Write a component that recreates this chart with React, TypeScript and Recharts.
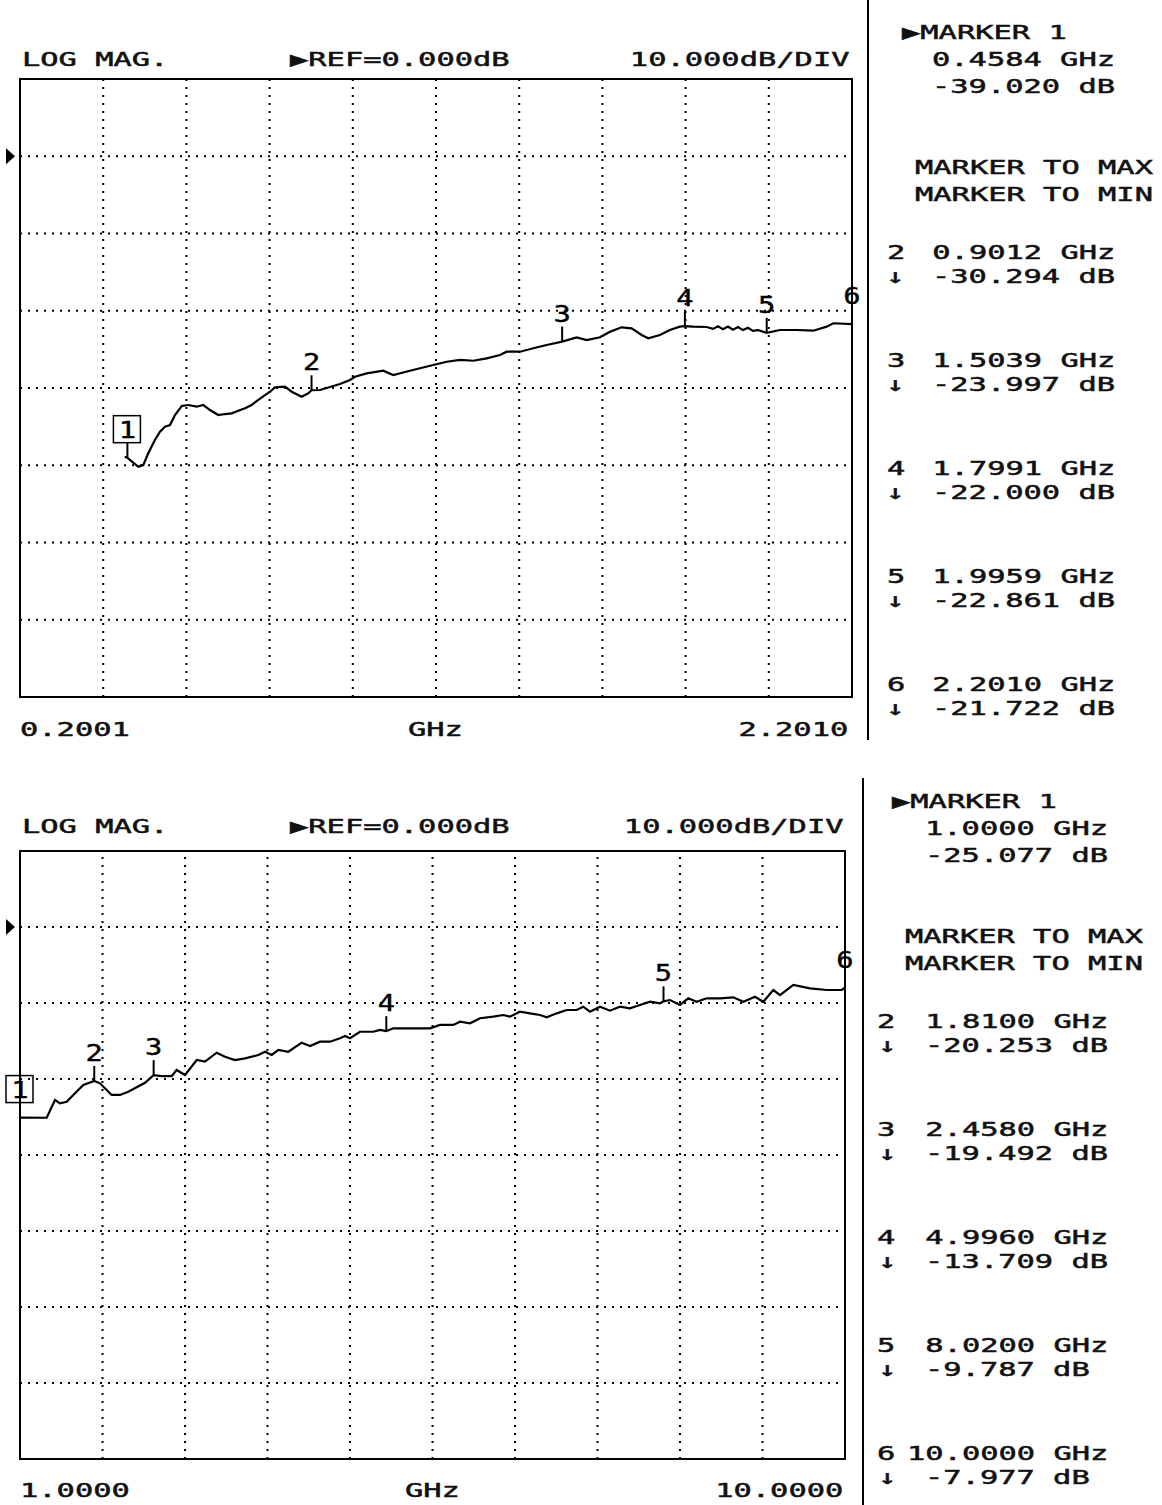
import React from 'react';
import { LineChart, Line, XAxis, YAxis, ReferenceLine, ReferenceArea, ReferenceDot } from 'recharts';

// upper trace, 0.2001 - 2.2010 GHz
const topFreq = [0.452, 0.4584, 0.4687, 0.4846, 0.4966, 0.5086, 0.5248, 0.5368, 0.5488, 0.5608, 0.5729, 0.589, 0.6048, 0.6251, 0.6409, 0.657, 0.677, 0.6931, 0.7092, 0.7251, 0.7412, 0.7573, 0.7732, 0.7893, 0.8013, 0.8133, 0.8374, 0.8535, 0.8776, 0.8934, 0.9012, 0.9216, 0.9456, 0.9697, 0.9937, 1.0057, 1.0339, 1.0738, 1.0978, 1.138, 1.162, 1.194, 1.2263, 1.2583, 1.2902, 1.3225, 1.3545, 1.3705, 1.4026, 1.4346, 1.4667, 1.5039, 1.539, 1.563, 1.595, 1.619, 1.647, 1.671, 1.695, 1.711, 1.739, 1.763, 1.787, 1.7991, 1.819, 1.8515, 1.8667, 1.8787, 1.8907, 1.9027, 1.9147, 1.9268, 1.9388, 1.9508, 1.9628, 1.9749, 1.9959, 2.0278, 2.0679, 2.1079, 2.1401, 2.156, 2.201];
const topDb = [-38.9, -39.02, -39.5, -40.2, -39.97, -38.45, -36.7, -35.66, -35.01, -34.79, -33.5, -32.33, -32.2, -32.42, -32.2, -32.85, -33.5, -33.37, -33.28, -32.94, -32.63, -32.2, -31.55, -30.91, -30.48, -29.91, -29.83, -30.48, -31.13, -30.69, -30.294, -30.26, -29.87, -29.48, -28.96, -28.54, -28.1, -27.76, -28.32, -27.76, -27.45, -27.02, -26.6, -26.37, -26.47, -26.16, -25.73, -25.3, -25.3, -24.86, -24.43, -23.997, -23.44, -23.79, -23.44, -22.71, -22.14, -22.27, -23.14, -23.57, -23.14, -22.49, -22.06, -22.0, -22.06, -22.1, -22.35, -22.0, -22.4, -22.05, -22.45, -22.1, -22.5, -22.2, -22.6, -22.5, -22.861, -22.49, -22.49, -22.58, -22.06, -21.62, -21.722];
const topMarkFreq = [0.4584, 0.9012, 1.5039, 1.7991, 1.9959, 2.201];
const topMarkDb = [-39.02, -30.294, -23.997, -22.0, -22.861, -21.722];

// lower trace, 1 - 10 GHz
const botFreq = [1.0, 1.291, 1.382, 1.436, 1.509, 1.6, 1.691, 1.81, 1.873, 1.927, 2.0, 2.091, 2.181, 2.273, 2.364, 2.458, 2.546, 2.655, 2.709, 2.8, 2.928, 3.018, 3.146, 3.236, 3.345, 3.455, 3.6, 3.673, 3.746, 3.818, 3.927, 4.073, 4.164, 4.273, 4.382, 4.491, 4.545, 4.6, 4.709, 4.854, 4.927, 4.996, 5.072, 5.255, 5.473, 5.582, 5.727, 5.8, 5.909, 6.018, 6.163, 6.272, 6.345, 6.454, 6.564, 6.673, 6.746, 6.855, 6.964, 7.073, 7.145, 7.218, 7.327, 7.436, 7.545, 7.654, 7.764, 7.873, 7.982, 8.02, 8.091, 8.2, 8.29, 8.382, 8.491, 8.636, 8.781, 8.891, 9.018, 9.109, 9.218, 9.291, 9.436, 9.618, 9.8, 9.964, 10.0];
const botDb = [-25.077, -25.1, -22.76, -23.2, -22.99, -21.88, -20.79, -20.253, -20.57, -21.22, -22.1, -22.1, -21.67, -21.09, -20.49, -19.492, -19.61, -19.61, -18.82, -19.47, -17.5, -17.72, -16.54, -17.07, -17.5, -17.28, -16.84, -16.41, -16.84, -16.18, -16.41, -15.22, -15.66, -15.09, -15.09, -14.64, -14.34, -14.64, -13.78, -13.78, -13.55, -13.709, -13.33, -13.33, -13.33, -12.89, -12.89, -12.46, -12.67, -12.01, -11.8, -11.58, -11.8, -11.14, -11.36, -11.58, -11.88, -11.36, -10.92, -10.92, -10.49, -11.14, -10.49, -11.01, -10.49, -10.7, -10.26, -9.83, -10.04, -9.787, -9.61, -10.26, -9.38, -9.83, -9.38, -9.38, -9.25, -9.83, -9.17, -9.83, -8.29, -8.95, -7.63, -8.07, -8.29, -8.29, -7.977];
const botMarkFreq = [1.0, 1.81, 2.458, 4.996, 8.02, 10.0];
const botMarkDb = [-25.077, -20.253, -19.492, -13.709, -9.787, -7.977];

const topSpan = [0.2001, 2.201];
const botSpan = [1.0, 10.0];
const dbRange = [-70, 10];
const dbGrid = [0, -10, -20, -30, -40, -50, -60];

const FONT = '"DejaVu Sans Mono", monospace';

// y is the vertical centre of the capitals
function T({ x, y, right, children }: { x: number; y: number; right?: boolean; children: React.ReactNode }) {
  const style: React.CSSProperties = {
    position: 'absolute',
    top: y - 8.6,
    fontFamily: FONT,
    fontSize: 20,
    lineHeight: '18px',
    height: 18,
    whiteSpace: 'pre',
    color: '#111',
    WebkitTextStroke: '0.5px #111',
    transform: 'scaleX(1.52)',
    transformOrigin: right ? 'right center' : 'left center',
  };
  if (right) style.right = 1162 - x;
  else style.left = x;
  return <div style={style}>{children}</div>;
}

const markerShape = (label: string, boxed: boolean) => (p: any) => {
  const { cx, cy } = p;
  if (cx == null || cy == null) return <g />;
  return (
    <g>
      <line x1={cx} y1={cy - 15} x2={cx} y2={cy} stroke="#000" strokeWidth={2} />
      {boxed && <rect x={cx - 14} y={cy - 42} width={27} height={27} fill="none" stroke="#000" strokeWidth={1.5} />}
      <text transform={`translate(${cx},${cy - 20}) scale(1.25,1)`} textAnchor="middle" fontFamily={FONT} fontSize={23} fill="#000" stroke="#000" strokeWidth={0.4}>
        {label}
      </text>
    </g>
  );
};

const refArrow = (p: any) => {
  const { x, y } = p.viewBox;
  return <polygon points={`${x - 14},${y - 8} ${x - 14},${y + 8} ${x - 5},${y}`} fill="#000" />;
};

function Scope({ freq, db, span, markF, markD, width, height, margin }: any) {
  const data = freq.map((f: number, i: number) => ({ f, db: db[i] }));
  const step = (span[1] - span[0]) / 10;
  const vGrid = [1, 2, 3, 4, 5, 6, 7, 8, 9].map((i) => span[0] + i * step);
  return (
    <LineChart width={width} height={height} data={data} margin={margin}>
      <XAxis type="number" dataKey="f" domain={span} hide allowDataOverflow />
      <YAxis type="number" domain={dbRange} hide allowDataOverflow />
      {vGrid.map((v) => (
        <ReferenceLine key={'v' + v} x={v} stroke="#000" strokeWidth={2} strokeDasharray="2 6" />
      ))}
      {dbGrid.map((v) => (
        <ReferenceLine key={'h' + v} y={v} stroke="#000" strokeWidth={2} strokeDasharray="2 6" label={v === 0 ? refArrow : undefined} />
      ))}
      <ReferenceArea x1={span[0]} x2={span[1]} y1={dbRange[0]} y2={dbRange[1]} fill="none" stroke="#000" strokeWidth={2} fillOpacity={0} />
      <Line type="linear" dataKey="db" stroke="#000" strokeWidth={2.2} dot={false} isAnimationActive={false} />
      {markF.map((f: number, i: number) => (
        <ReferenceDot key={'m' + i} x={f} y={markD[i]} r={0} shape={markerShape(String(i + 1), i === 0)} />
      ))}
    </LineChart>
  );
}

function Panel({ x0, y0, markF, markD, numX, valX, arrowX, maxX }: any) {
  const rows = [];
  for (let i = 1; i < markF.length; i++) {
    const cy = y0 + (i - 1) * 108;
    const fs = markF[i].toFixed(4).padStart(7, ' ');
    rows.push(
      <React.Fragment key={i}>
        <T x={numX} y={cy}>{String(i + 1)}</T>
        <T x={valX - 18} y={cy}>{fs + ' GHz'}</T>
        <T x={arrowX} y={cy + 24}>↓</T>
        <T x={valX} y={cy + 24}>{markD[i].toFixed(3) + ' dB'}</T>
      </React.Fragment>
    );
  }
  return (
    <>
      <T x={x0} y={y0 - 220}>▶MARKER 1</T>
      <T x={valX} y={y0 - 193}>{markF[0].toFixed(4) + ' GHz'}</T>
      <T x={valX} y={y0 - 166}>{markD[0].toFixed(3) + ' dB'}</T>
      <T x={maxX} y={y0 - 85}>MARKER TO MAX</T>
      <T x={maxX} y={y0 - 58}>MARKER TO MIN</T>
      {rows}
    </>
  );
}

export default function App() {
  return (
    <div style={{ position: 'absolute', left: 0, top: 0, width: 1162, height: 1505, background: '#fff', overflow: 'hidden' }}>
      <div style={{ position: 'absolute', left: 0, top: 0 }}>
        <Scope freq={topFreq} db={topDb} span={topSpan} markF={topMarkFreq} markD={topMarkDb}
          width={870} height={760} margin={{ top: 79, left: 20, right: 18, bottom: 63 }} />
      </div>
      <div style={{ position: 'absolute', left: 0, top: 760 }}>
        <Scope freq={botFreq} db={botDb} span={botSpan} markF={botMarkFreq} markD={botMarkDb}
          width={870} height={745} margin={{ top: 91, left: 20, right: 25, bottom: 46 }} />
      </div>

      <T x={22} y={59}>LOG MAG.</T>
      <T x={290} y={59}>▶REF=0.000dB</T>
      <T x={849} y={59} right>10.000dB/DIV</T>
      <T x={20} y={729}>0.2001</T>
      <T x={408} y={729}>GHz</T>
      <T x={848} y={729} right>2.2010</T>

      <T x={22} y={826}>LOG MAG.</T>
      <T x={290} y={826}>▶REF=0.000dB</T>
      <T x={843} y={826} right>10.000dB/DIV</T>
      <T x={20} y={1490}>1.0000</T>
      <T x={405} y={1490}>GHz</T>
      <T x={843} y={1490} right>10.0000</T>

      <div style={{ position: 'absolute', left: 867, top: 0, width: 2, height: 740, background: '#000' }} />
      <div style={{ position: 'absolute', left: 862, top: 778, width: 2, height: 727, background: '#000' }} />

      <Panel x0={902} y0={252} markF={topMarkFreq} markD={topMarkDb} numX={887} valX={932} arrowX={886} maxX={915} />
      <Panel x0={892} y0={1021} markF={botMarkFreq} markD={botMarkDb} numX={877} valX={925} arrowX={878} maxX={905} />
    </div>
  );
}
